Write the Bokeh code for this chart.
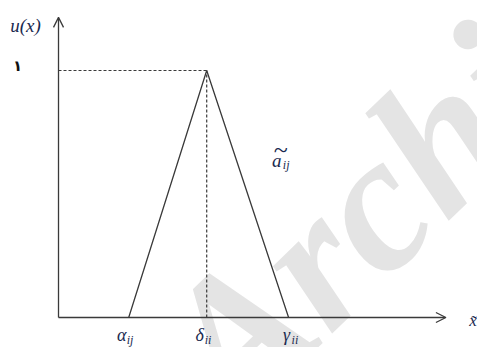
import math
from bokeh.plotting import figure
from bokeh.models import Range1d, Arrow, OpenHead, ColumnDataSource
from bokeh.embed import file_html
from bokeh.resources import INLINE
from bokeh.core.properties import value

# ---- data ----
alpha_ij = 2.7
delta_ij = 5.7
gamma_ij = 8.85
tri_x = [alpha_ij, delta_ij, gamma_ij]
tri_u = [0.0, 1.0, 0.0]
peak_u = 1.0
x_axis_end = 14.9
u_axis_end = 1.215
tick_main = ["α", "δ", "γ"]
tick_sub = ["ij", "ii", "ii"]
y_title = "u(x)"
one_label = "۱"
x_title = "x̃"
fuzzy_main = "a"
fuzzy_sub = "ij"
watermark = "Archi"

INK = "#3a3a3a"
SERIF = "Liberation Serif"
BLUEINK = "#1a2a50"

p = figure(width=477, height=347, output_backend="svg", toolbar_location=None,
           x_range=Range1d(-2.231, 16.115), y_range=Range1d(-0.1215, 1.2834),
           x_axis_type=None, y_axis_type=None, min_border=0)
p.grid.visible = False
p.outline_line_color = None
p.background_fill_color = "white"

# watermark (under everything)
p.text(x=[5.05], y=[-0.25], text=[watermark], angle=math.radians(44),
       text_font=value(SERIF), text_font_size="195px", text_font_style="bold italic",
       text_color="#e4e4e4", text_align="left", text_baseline="alphabetic")

# axes with open arrow heads
p.add_layout(Arrow(end=OpenHead(size=10, line_color=INK, line_width=1.3),
                   x_start=0, y_start=0, x_end=x_axis_end, y_end=0,
                   line_color=INK, line_width=1.3))
p.add_layout(Arrow(end=OpenHead(size=10, line_color=INK, line_width=1.3),
                   x_start=0, y_start=0, x_end=0, y_end=u_axis_end,
                   line_color=INK, line_width=1.3))

# dashed guides
p.line([0, delta_ij], [peak_u, peak_u], line_color=INK, line_width=1.2, line_dash="3 2")
p.line([delta_ij, delta_ij], [0, peak_u], line_color=INK, line_width=1.2, line_dash="3 2")

# triangle
p.line(tri_x, tri_u, line_color=INK, line_width=1.3)

# tick labels under the vertices
main_off = [-7, -7, -2]
sub_off = [-2, -2, 3]
src_main = ColumnDataSource(dict(x=tri_x, y=[0, 0, 0], t=tick_main, xo=main_off))
src_sub = ColumnDataSource(dict(x=tri_x, y=[0, 0, 0], t=tick_sub, xo=sub_off))
p.text(x="x", y="y", text="t", x_offset="xo", y_offset=18, source=src_main,
       text_font=value(SERIF), text_font_size="18px", text_font_style="italic",
       text_color=BLUEINK, text_align="center", text_baseline="middle")
p.text(x="x", y="y", text="t", x_offset="xo", y_offset=23, source=src_sub,
       text_font=value(SERIF), text_font_size="12px", text_font_style="italic",
       text_color=BLUEINK, text_align="left", text_baseline="middle")

# axis titles
p.text(x=[0], y=[u_axis_end], text=[y_title], x_offset=-33, y_offset=8,
       text_font=value(SERIF), text_font_size="19px", text_font_style="italic",
       text_color=BLUEINK, text_align="center", text_baseline="middle")
p.text(x=[0], y=[peak_u], text=[one_label], x_offset=-41, y_offset=-4,
       text_font=value("DejaVu Sans"), text_font_size="15px", text_font_style="bold",
       text_color="#111111", text_align="center", text_baseline="middle")
p.text(x=[x_axis_end], y=[0], text=[x_title], x_offset=27, y_offset=3,
       text_font=value(SERIF), text_font_size="17px", text_font_style="italic",
       text_color=BLUEINK, text_align="center", text_baseline="middle")

# fuzzy number label
fx = gamma_ij - 0.3
fy = 0.635
p.text(x=[fx], y=[fy], text=[fuzzy_main], x_offset=-4,
       text_font=value(SERIF), text_font_size="19px", text_font_style="italic",
       text_color=BLUEINK, text_align="center", text_baseline="middle")
p.text(x=[fx], y=[fy], text=[fuzzy_sub], x_offset=2, y_offset=4,
       text_font=value(SERIF), text_font_size="12px", text_font_style="italic",
       text_color=BLUEINK, text_align="left", text_baseline="middle")
p.text(x=[fx], y=[fy], text=["~"], x_offset=0, y_offset=-11,
       text_font=value(SERIF), text_font_size="26px",
       text_color=BLUEINK, text_align="center", text_baseline="middle")

open("out.html", "w").write(file_html(p, INLINE))
